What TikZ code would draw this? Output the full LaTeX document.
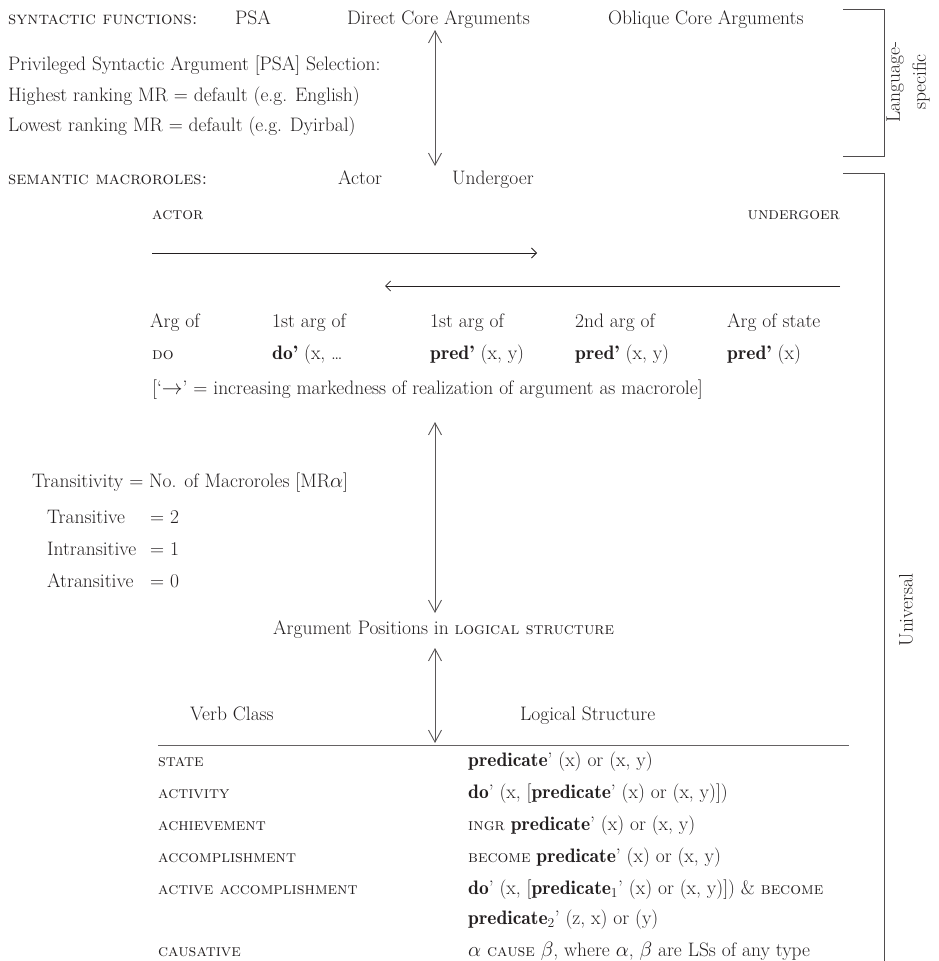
\documentclass[tikz,border=0pt]{standalone}
\usetikzlibrary{arrows.meta}
\definecolor{ink}{HTML}{231F20}
\newcommand{\bd}[1]{{\fontseries{b}\selectfont #1}}
\newcommand{\scA}[1]{{\fontsize{18}{22}\selectfont\textsc{#1}}}
\newcommand{\scB}[1]{{\fontsize{17}{22}\selectfont\textsc{#1}}}
\begin{document}
\begin{tikzpicture}[x=1pt,y=-1pt,
  every node/.style={inner sep=0pt, text=ink, font=\fontsize{19.5}{23}\selectfont},
  lbl/.style={anchor=west, text height=13pt, text depth=4pt},
  rlbl/.style={anchor=east, text height=13pt, text depth=4pt},
  vline/.style={draw=ink!75, line width=0.9pt, {Straight Barb[length=12pt,width=13pt]}-{Straight Barb[length=12pt,width=13pt]}},
  harrow/.style={draw=ink, line width=0.8pt, -{Straight Barb[length=5pt,width=10pt]}},
  brk/.style={draw=ink!80, line width=0.9pt},
  rulel/.style={draw=ink!70, line width=0.9pt}]
\useasboundingbox (0,0) rectangle (939,961);
% language specific part
\node[lbl] (synf) at (8,20) {\scA{syntactic functions:}};
\node[lbl] (psa) at (235,20) {PSA};
\node[lbl] (dca) at (347,20) {Direct Core Arguments};
\node[lbl] (oca) at (608,20) {Oblique Core Arguments};
\node[lbl] (priv) at (8,66) {Privileged Syntactic Argument [PSA] Selection:};
\node[lbl] (high) at (8,97) {Highest ranking MR = default (e.g. English)};
\node[lbl] (low) at (8,127) {Lowest ranking MR = default (e.g. Dyirbal)};
\node[lbl] (semm) at (8,180) {\scA{semantic macroroles:}};
\node[lbl] (actor) at (338,180) {Actor};
\node[lbl] (und) at (452,180) {Undergoer};
\coordinate (aA1) at (435,30);
\coordinate (aA2) at (435,166);
\draw[vline] (aA1) -- (aA2);
% brackets
\coordinate (lb1) at (843,9);
\coordinate (lb2) at (884,9);
\coordinate (lb3) at (884,156);
\coordinate (lb4) at (843,156);
\draw[brk] (lb1) -- (lb2) -- (lb3) -- (lb4);
\node[rotate=90, align=center, font=\fontsize{19.5}{26}\selectfont] (lang) at (908,82) {Language-\\specific};
\coordinate (ub1) at (843,173);
\coordinate (ub2) at (884,173);
\coordinate (ub3) at (884,966);
\draw[brk] (ub1) -- (ub2) -- (ub3);
\node[rotate=90] (univ) at (906,610) {Universal};
% actor-undergoer hierarchy
\node[lbl] (actS) at (152,215) {\scB{actor}};
\node[rlbl] (undS) at (840,215) {\scB{undergoer}};
\coordinate (h1a) at (152,253);
\coordinate (h1b) at (537,253);
\draw[harrow] (h1a) -- (h1b);
\coordinate (h2a) at (840,286);
\coordinate (h2b) at (385,286);
\draw[harrow] (h2a) -- (h2b);
\node[lbl] (r1c1) at (150,323) {Arg of};
\node[lbl] (r1c2) at (272,323) {1st arg of};
\node[lbl] (r1c3) at (430,323) {1st arg of};
\node[lbl] (r1c4) at (575,323) {2nd arg of};
\node[lbl] (r1c5) at (727,323) {Arg of state};
\node[lbl] (r2c1) at (152,355) {\scB{do}};
\node[lbl] (r2c2) at (272,355) {\bd{do’} (x, \ldots};
\node[lbl] (r2c3) at (430,355) {\bd{pred’} (x, y)};
\node[lbl] (r2c4) at (575,355) {\bd{pred’} (x, y)};
\node[lbl] (r2c5) at (727,355) {\bd{pred’} (x)};
\node[lbl] (mark) at (152,390) {[‘$\rightarrow$’ = increasing markedness of realization of argument as macrorole]};
\coordinate (aB1) at (435,422);
\coordinate (aB2) at (435,613);
\draw[vline] (aB1) -- (aB2);
% transitivity
\node[lbl] (trans) at (32,483) {Transitivity =\ No. of Macroroles [MR$\alpha$]};
\node[lbl] (tr1) at (47,519) {Transitive};
\node[lbl] (tr1v) at (150,519) {= 2};
\node[lbl] (tr2) at (47,551) {Intransitive};
\node[lbl] (tr2v) at (150,551) {= 1};
\node[lbl] (tr3) at (47,583) {Atransitive};
\node[lbl] (tr3v) at (150,583) {= 0};
\node[lbl] (argpos) at (273,630) {Argument Positions in \scB{logical structure}};
\coordinate (aC1) at (435,648);
\coordinate (aC2) at (435,743);
\draw[vline] (aC1) -- (aC2);
% table
\node[lbl] (vc) at (190,716) {Verb Class};
\node[lbl] (ls) at (520,716) {Logical Structure};
\coordinate (rl1) at (158,745);
\coordinate (rl2) at (849,745);
\draw[rulel] (rl1) -- (rl2);
\node[lbl] (k1) at (158,762) {\scB{state}};
\node[lbl] (k2) at (158,794) {\scB{activity}};
\node[lbl] (k3) at (158,826) {\scB{achievement}};
\node[lbl] (k4) at (158,858) {\scB{accomplishment}};
\node[lbl] (k5) at (158,890) {\scB{active accomplishment}};
\node[lbl] (k6) at (158,952) {\scB{causative}};
\node[lbl] (v1) at (468,762) {\bd{predicate}’ (x) or (x, y)};
\node[lbl] (v2) at (468,794) {\bd{do}’ (x, [\bd{predicate}’ (x) or (x, y)])};
\node[lbl] (v3) at (468,826) {\scB{ingr} \bd{predicate}’ (x) or (x, y)};
\node[lbl] (v4) at (468,858) {\scB{become} \bd{predicate}’ (x) or (x, y)};
\node[lbl] (v5) at (468,890) {\bd{do}’ (x, [\bd{predicate}\textsubscript{1}’ (x) or (x, y)]) \& \scB{become}};
\node[lbl] (v5b) at (468,920) {\bd{predicate}\textsubscript{2}’ (z, x) or (y)};
\node[lbl] (v6) at (468,952) {$\alpha$ \scB{cause} $\beta$, where $\alpha$, $\beta$ are LSs of any type};
\end{tikzpicture}
\end{document}
